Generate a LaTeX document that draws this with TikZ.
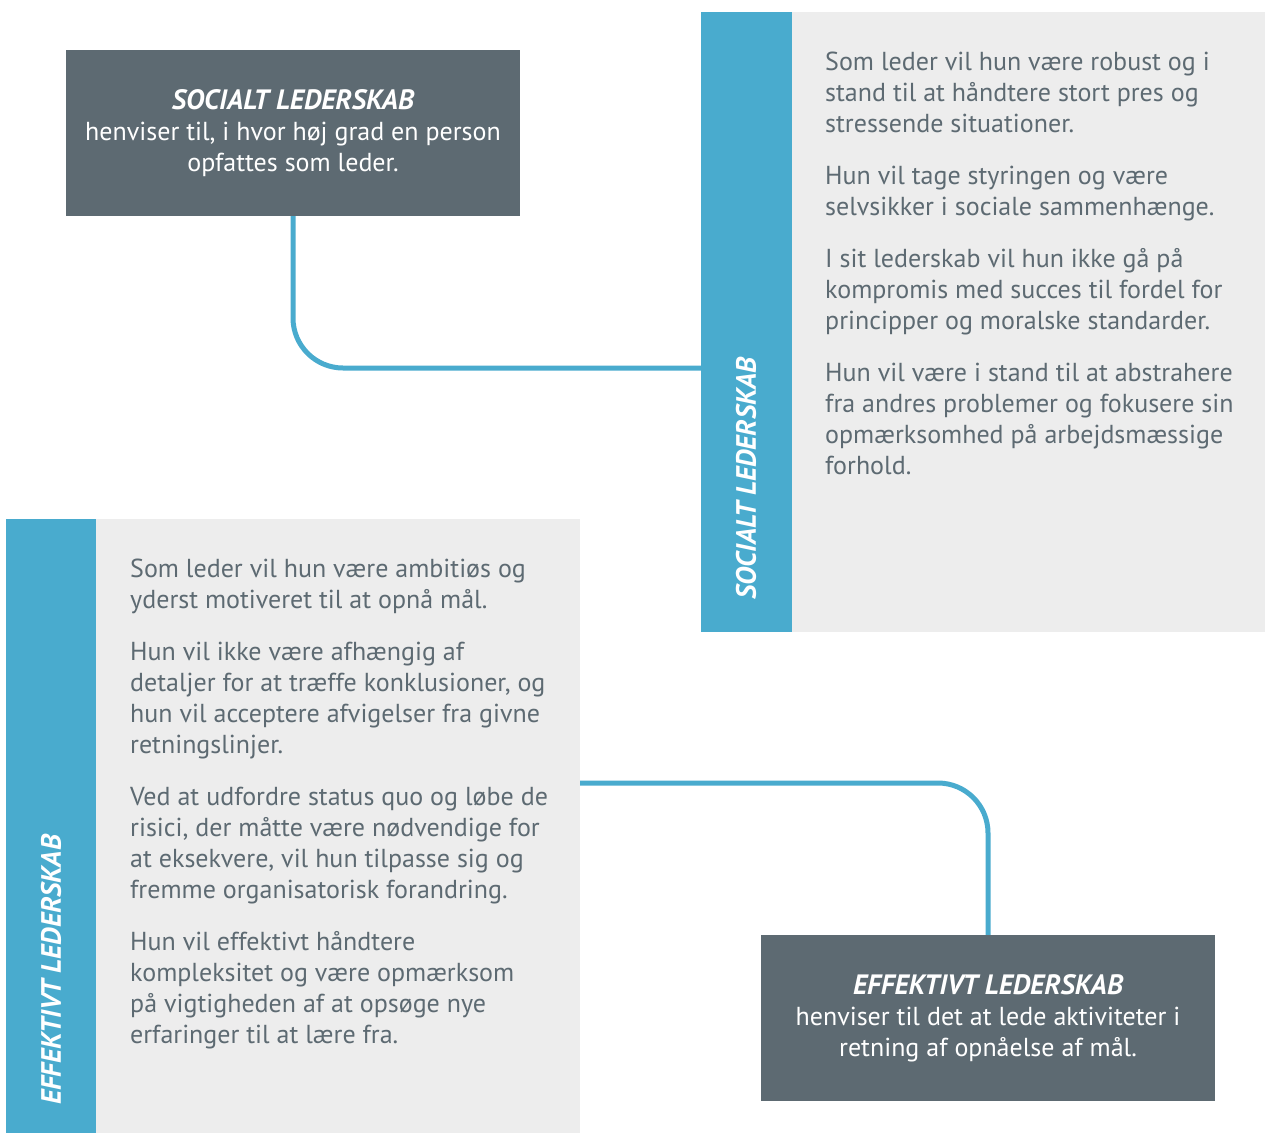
\documentclass[tikz,border=0pt]{standalone}
\usepackage{fontspec}
\setmainfont{PT Sans}
\usetikzlibrary{positioning}

\definecolor{slate}{HTML}{5D6A72}
\definecolor{skyblue}{HTML}{49ABCE}
\definecolor{panelgrey}{HTML}{EDEDED}

\newcommand{\headfont}{\fontsize{28}{31}\selectfont\bfseries\itshape}

\begin{document}
\begin{tikzpicture}[x=1pt, y=-1pt,
                    darkbox/.style={fill=slate, text=white, align=center, inner sep=0pt,
                                    minimum width=454pt, minimum height=166pt,
                                    font=\fontsize{26}{31}\selectfont},
                    stripbox/.style={fill=skyblue, anchor=north west, inner sep=0pt, minimum width=91pt},
                    greybox/.style={fill=panelgrey, anchor=north west, inner sep=0pt},
                    striplabel/.style={rotate=90, anchor=west, inner sep=0pt, text=white, font=\headfont},
                    bodytext/.style={anchor=north west, align=left, inner sep=0pt, text=slate,
                                     font=\fontsize{26}{31}\selectfont},
                    link/.style={draw=skyblue, line width=5pt, rounded corners=50pt}]
    \useasboundingbox (0,0) rectangle (1265,1133);

    % top left: social leadership
    \node[darkbox] (socbox) at (293,133) {{\headfont SOCIALT LEDERSKAB}\\
        henviser til, i hvor høj grad en person\\ opfattes som leder.};

    % right panel
    \node[greybox, minimum width=473pt, minimum height=620pt] (socpanel) at (792,12) {};
    \node[stripbox, minimum height=620pt] (socstrip) at (701,12) {};
    \node[striplabel] (soclabel) at (746,600) {SOCIALT LEDERSKAB};
    \node[bodytext] (soctext) at (825,52) {Som leder vil hun være robust og i\\
        stand til at håndtere stort pres og\\
        stressende situationer.\\[21pt]
        Hun vil tage styringen og være\\
        selvsikker i sociale sammenhænge.\\[21pt]
        I sit lederskab vil hun ikke gå på\\
        kompromis med succes til fordel for\\
        principper og moralske standarder.\\[21pt]
        Hun vil være i stand til at abstrahere\\
        fra andres problemer og fokusere sin\\
        opmærksomhed på arbejdsmæssige\\
        forhold.};

    % left panel
    \node[greybox, minimum width=484pt, minimum height=614pt] (effpanel) at (96,519) {};
    \node[stripbox, minimum height=614pt, minimum width=90pt] (effstrip) at (6,519) {};
    \node[striplabel] (efflabel) at (51,1105) {EFFEKTIVT LEDERSKAB};
    \node[bodytext] (efftext) at (130,559) {Som leder vil hun være ambitiøs og\\
        yderst motiveret til at opnå mål.\\[21pt]
        Hun vil ikke være afhængig af\\
        detaljer for at træffe konklusioner, og\\
        hun vil acceptere afvigelser fra givne\\
        retningslinjer.\\[21pt]
        Ved at udfordre status quo og løbe de\\
        risici, der måtte være nødvendige for\\
        at eksekvere, vil hun tilpasse sig og\\
        fremme organisatorisk forandring.\\[21pt]
        Hun vil effektivt håndtere\\
        kompleksitet og være opmærksom\\
        på vigtigheden af at opsøge nye\\
        erfaringer til at lære fra.};

    % bottom right: effective leadership
    \node[darkbox] (effbox) at (988,1018) {{\headfont EFFEKTIVT LEDERSKAB}\\
        henviser til det at lede aktiviteter i\\ retning af opnåelse af mål.};

    % connectors
    \coordinate (socin) at (701,368);
    \coordinate (effout) at (580,783);
    \draw[link] (socbox.south) |- (socin);
    \draw[link] (effout) -| (effbox.north);
\end{tikzpicture}
\end{document}
